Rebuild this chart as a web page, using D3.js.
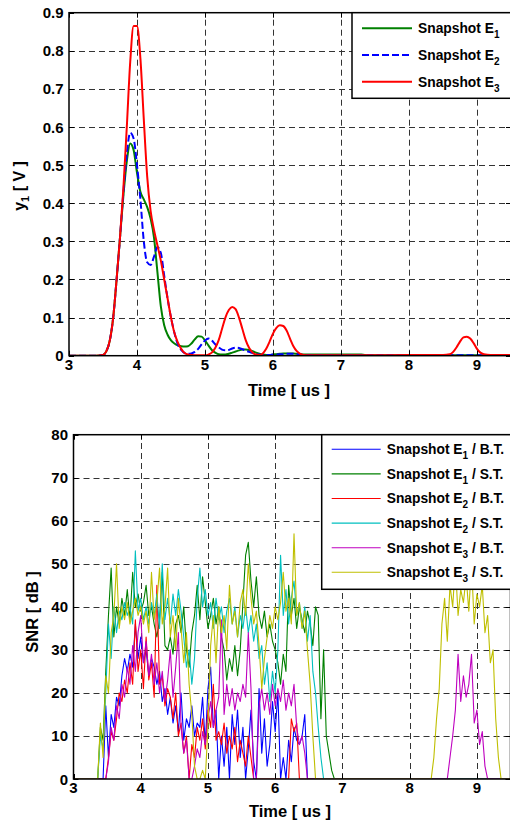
<!DOCTYPE html>
<html><head><meta charset="utf-8">
<script src="https://cdn.jsdelivr.net/npm/d3@7"></script>
<style>
body{margin:0;background:#fff}
svg{display:block;background:#fff}
text{font-family:"Liberation Sans",Arial,Helvetica,sans-serif;font-weight:bold;fill:#000}
</style>
</head><body>
<svg id="chart" width="510" height="823"></svg>
<script>
// ---------- Top chart data (y1 [V] vs Time [us]) ----------
const timeTop = [3.0,3.4,3.5,3.55,3.6,3.65,3.7,3.75,3.8,3.85,3.9,3.95,4.0,4.05,4.1,4.15,4.2,4.25,4.3,4.35,4.4,4.45,4.5,4.55,4.6,4.65,4.7,4.75,4.8,4.85,4.9,4.95,5.0,5.05,5.1,5.15,5.2,5.25,5.3,5.35,5.4,5.45,5.5,5.55,5.6,5.65,5.7,5.75,5.8,5.85,5.9,5.95,6.0,6.05,6.1,6.15,6.2,6.25,6.3,6.35,6.4,6.45,6.5,6.6,7.0,7.3,7.4,8.0,8.5,8.6,8.65,8.7,8.75,8.8,8.85,8.9,8.95,9.0,9.05,9.1,9.2,9.5];
const voltE1 = [0,0,0.002,0.012,0.04,0.1,0.2,0.31,0.42,0.51,0.557,0.54,0.48,0.43,0.41,0.39,0.36,0.31,0.22,0.13,0.08,0.055,0.04,0.032,0.027,0.025,0.024,0.025,0.032,0.043,0.051,0.05,0.04,0.027,0.015,0.008,0.004,0.003,0.003,0.005,0.008,0.011,0.014,0.016,0.016,0.015,0.012,0.008,0.005,0.003,0.002,0.002,0.003,0.004,0.005,0.006,0.006,0.006,0.006,0.005,0.004,0.003,0.003,0.003,0.003,0.003,0.001,0.001,0.001,0.001,0.001,0.001,0.001,0.001,0.001,0.001,0.001,0.001,0.001,0.001,0.001,0.001];
const voltE2 = [0,0,0.002,0.012,0.04,0.1,0.2,0.31,0.43,0.53,0.585,0.57,0.5,0.41,0.3,0.245,0.238,0.26,0.285,0.27,0.21,0.15,0.1,0.06,0.03,0.015,0.007,0.005,0.006,0.01,0.018,0.03,0.04,0.045,0.04,0.03,0.022,0.016,0.014,0.015,0.019,0.021,0.02,0.017,0.013,0.01,0.007,0.004,0.003,0.002,0.002,0.002,0.003,0.003,0.004,0.004,0.005,0.005,0.005,0.004,0.003,0.002,0.002,0.001,0.001,0.001,0.001,0.001,0.001,0.001,0.001,0.001,0.001,0.001,0.001,0.001,0.001,0.001,0.001,0.001,0.001,0.001];
const voltE3 = [0,0,0.002,0.012,0.04,0.1,0.2,0.31,0.44,0.6,0.77,0.865,0.865,0.78,0.62,0.47,0.38,0.33,0.29,0.25,0.2,0.15,0.1,0.06,0.035,0.018,0.007,0.003,0.002,0.001,0.001,0.001,0.001,0.003,0.008,0.02,0.04,0.07,0.1,0.12,0.128,0.122,0.1,0.07,0.04,0.02,0.008,0.003,0.002,0.006,0.018,0.037,0.058,0.073,0.08,0.078,0.066,0.045,0.025,0.012,0.005,0.002,0.001,0.001,0.001,0.001,0.001,0.002,0.002,0.004,0.01,0.022,0.037,0.048,0.05,0.045,0.033,0.018,0.008,0.004,0.002,0.002];
const topXTicks = [3,4,5,6,7,8,9];
const topYTicks = [0,0.1,0.2,0.3,0.4,0.5,0.6,0.7,0.8,0.9];
const topLegend = [
  {sub:"1", color:"#008000", dash:null},
  {sub:"2", color:"#0000ff", dash:"7,3"},
  {sub:"3", color:"#ff0000", dash:null}
];

// ---------- Bottom chart data (SNR [dB] vs Time [us]), sample step 0.04 us ----------
const snrStep = 0.04;
const snrE1BT = [0,17,5,15,12,19,17,24,28,25, 29,26,36,28,33,27,30,24,28,26, 22,25,18,21,15,19,13,17,11,20, 9,14,12,17,10,13,12,19,8,21, 26,12,16,0,10,3,12,0,15,8, 16,5,12,0,7,16,4,0,21,6, 14,3,8,18,11,20,0,5,0,9, 4,12,9,8,10,15,0];
const snrE1ST = [0,12,9,25,38,49,33,40,36,42, 38,44,37,48,40,43,39,41,45,38, 40,36,33,37,48,31,30,33,29,36, 38,34,40,30,26,34,38,45,37,47, 41,35,38,42,36,40,33,30,23,28, 25,31,24,30,41,52,55,46,40,47, 38,35,39,33,36,32,30,27,22,29, 25,45,38,42,35,40,37,34,39,36, 31,40,38,14,30,10,6,2,0];
const snrE2BTa = [0,5,11,9,14,20,18,23,20,27, 22,37,25,30,21,33,23,27,19,45, 22,24,17,21,19,14,20,10,13,6, 10,0,8,5,12,9,14,7,16,12, 22,9,11,8,13,6,10,7,12,4, 9,6,3,10,5,0];
const snrE2BTb = [0,14,11,13,0];
const snrE2ST = [0,10,7,20,36,28,40,34,39,37, 41,38,40,36,53,39,42,37,40,36, 41,38,43,35,50,37,42,36,43,38, 44,39,33,26,30,22,28,42,49,40, 44,38,41,35,42,37,40,34,39,42, 36,40,33,38,35,40,34,38,32,36, 28,31,22,27,18,25,20,30,52,38, 44,36,42,46,38,41,35,40,32,38, 25,20,12,5,0];
const snrE3BTa = [0,4,12,9,17,14,22,19,26,22, 31,25,34,38,27,32,24,29,22,27, 20,25,18,23,30,19,26,34,12,6, 9,0,0,3,7,5,11,8,14,18, 12,16,19,37,15,22,17,21,16,20, 18,22,19,34,21,0,0,17,21,16, 20,15,22,17,21,18,23,16,20,17, 22,12,8,10,6,0];
const snrE3BTb = [0,5,10,16,29,18,24,19,22,29,13,16,8,11,3,0];
const snrE3STa = [0,13,5,24,20,34,38,50,35,40, 37,41,36,39,42,38,40,36,39,34, 48,37,41,49,36,40,49,33,38,30, 42,35,27,34,22,15,3,0,0,2, 0,12,31,38,27,40,34,38,30,45, 36,39,33,41,44,38,50,42,36,39, 31,21,28,33,38,35,40,37,41,48, 39,42,36,57,38,41,35,39,30,22, 10,0];
const snrE3STb = [0,5,14,21,36,42,32,45,40,50,38,44,41,47,39,50,36,43,40,45,34,38,27,30,14,5,0];
const botXTicks = [3,4,5,6,7,8,9];
const botYTicks = [0,10,20,30,40,50,60,70,80];
const snrSeries = [
  {sub:"1", tag:"B.T.", color:"#0000ff", segs:[{start:3.44, v:snrE1BT}]},
  {sub:"1", tag:"S.T.", color:"#008000", segs:[{start:3.36, v:snrE1ST}]},
  {sub:"2", tag:"B.T.", color:"#ff0000", segs:[{start:3.48, v:snrE2BTa},{start:6.20, v:snrE2BTb}]},
  {sub:"2", tag:"S.T.", color:"#00bfbf", segs:[{start:3.36, v:snrE2ST}]},
  {sub:"3", tag:"B.T.", color:"#bf00bf", segs:[{start:3.48, v:snrE3BTa},{start:8.56, v:snrE3BTb}]},
  {sub:"3", tag:"S.T.", color:"#bfbf00", segs:[{start:3.36, v:snrE3STa},{start:8.32, v:snrE3STb}]}
];

// ---------- Drawing ----------
const svg = d3.select("#chart");
const GRID = "#333";
const crisp = v => Math.round(v) + 0.5;

function frame(g, x, y, xTicks, yTicks, id) {
  const [x0, x1] = x.range();
  const [y0, y1] = y.range();
  g.append("g").selectAll("line").data(xTicks.filter(t => t > x.domain()[0])).join("line")
    .attr("x1", d => crisp(x(d))).attr("x2", d => crisp(x(d))).attr("y1", y0).attr("y2", y1)
    .attr("stroke", GRID).attr("stroke-width", 1).attr("stroke-dasharray", "6,4");
  g.append("g").selectAll("line").data(yTicks.filter(t => t > y.domain()[0] && t < y.domain()[1])).join("line")
    .attr("x1", x0).attr("x2", x1).attr("y1", d => crisp(y(d))).attr("y2", d => crisp(y(d)))
    .attr("stroke", GRID).attr("stroke-width", 1).attr("stroke-dasharray", "6,4");
  svg.append("defs").append("clipPath").attr("id", id).append("rect")
    .attr("x", x0).attr("y", y1).attr("width", x1 - x0).attr("height", y0 - y1);
}

function axesOverlay(g, x, y, xTicks, yTicks, yFmt, fs) {
  const [x0, x1] = x.range();
  const [y0, y1] = y.range();
  const tl = 5;
  const tk = g.append("g").attr("stroke", "#000").attr("stroke-width", 1);
  xTicks.forEach(t => {
    tk.append("line").attr("x1", crisp(x(t))).attr("x2", crisp(x(t))).attr("y1", y0).attr("y2", y0 - tl);
    tk.append("line").attr("x1", crisp(x(t))).attr("x2", crisp(x(t))).attr("y1", y1).attr("y2", y1 + tl);
  });
  yTicks.forEach(t => {
    tk.append("line").attr("x1", x0).attr("x2", x0 + tl).attr("y1", crisp(y(t))).attr("y2", crisp(y(t)));
    tk.append("line").attr("x1", x1).attr("x2", x1 - tl).attr("y1", crisp(y(t))).attr("y2", crisp(y(t)));
  });
  g.append("rect").attr("x", x0).attr("y", y1).attr("width", x1 - x0).attr("height", y0 - y1)
    .attr("fill", "none").attr("stroke", "#000").attr("stroke-width", 1.5);
  g.append("g").selectAll("text").data(xTicks).join("text")
    .attr("x", d => x(d)).attr("y", y0 + 14).attr("text-anchor", "middle")
    .style("font-size", fs + "px").text(d => d);
  g.append("g").selectAll("text").data(yTicks).join("text")
    .attr("x", x0 - 5.5).attr("y", d => y(d) + 5.5).attr("text-anchor", "end")
    .style("font-size", fs + "px").text(yFmt);
}

// ----- Top chart -----
const xT = d3.scaleLinear().domain([3, 9.5]).range([69, 511]);
const yT = d3.scaleLinear().domain([0, 0.9]).range([355.7, 12.7]);
const gT = svg.append("g");
frame(gT, xT, yT, topXTicks, topYTicks, "clipTop");
const lineT = d3.line().x(d => xT(d[0])).y(d => yT(d[1])).curve(d3.curveMonotoneX);
const topData = [voltE1, voltE2, voltE3];
const linesT = gT.append("g").attr("clip-path", "url(#clipTop)");
topData.forEach((vals, i) => {
  linesT.append("path").datum(timeTop.map((t, j) => [t, vals[j]]))
    .attr("d", lineT).attr("fill", "none").attr("stroke", topLegend[i].color)
    .attr("stroke-width", 2).attr("stroke-dasharray", topLegend[i].dash)
    .attr("stroke-linejoin", "round");
});
axesOverlay(gT, xT, yT, topXTicks, topYTicks, d => d === 0 ? "0" : d3.format(".1f")(d), 15);
gT.append("text").attr("x", 289).attr("y", 395.5).attr("text-anchor", "middle")
  .style("font-size", "16.5px").text("Time [ us ]");
const ylab = gT.append("text").attr("transform", "translate(24.5,186) rotate(-90)")
  .attr("text-anchor", "middle").style("font-size", "16px");
ylab.append("tspan").text("y");
ylab.append("tspan").attr("dy", 4).style("font-size", "11px").text("1");
ylab.append("tspan").attr("dy", -4).text(" [ V ]");

// top legend
const legT = gT.append("g");
legT.append("rect").attr("x", 352).attr("y", 12.7).attr("width", 170).attr("height", 85.6)
  .attr("fill", "#fff").attr("stroke", "#000").attr("stroke-width", 1.5);
topLegend.forEach((e, i) => {
  const yy = 28.3 + i * 26.7;
  legT.append("line").attr("x1", 362).attr("x2", 412).attr("y1", yy).attr("y2", yy)
    .attr("stroke", e.color).attr("stroke-width", 2).attr("stroke-dasharray", e.dash);
  const t = legT.append("text").attr("x", 418).attr("y", yy + 4.8).style("font-size", "13.8px");
  t.append("tspan").text("Snapshot E");
  t.append("tspan").attr("dy", 5).style("font-size", "10px").text(e.sub);
});

// ----- Bottom chart -----
const xB = d3.scaleLinear().domain([3, 9.5]).range([73.5, 510.5]);
const yB = d3.scaleLinear().domain([0, 80]).range([779, 434.7]);
const gB = svg.append("g");
frame(gB, xB, yB, botXTicks, botYTicks, "clipBot");
const lineB = d3.line().x(d => xB(d[0])).y(d => yB(Math.max(0, d[1])));
const linesB = gB.append("g").attr("clip-path", "url(#clipBot)");
snrSeries.forEach(s => {
  const pts = [[3, 0]];
  s.segs.forEach(seg => seg.v.forEach((v, i) => pts.push([seg.start + i * snrStep, v])));
  pts.push([9.5, 0]);
  linesB.append("path").datum(pts).attr("d", lineB).attr("fill", "none")
    .attr("stroke", s.color).attr("stroke-width", 1.1).attr("stroke-linejoin", "round");
});
axesOverlay(gB, xB, yB, botXTicks, botYTicks, d => d, 15);
gB.append("text").attr("x", 290).attr("y", 817).attr("text-anchor", "middle")
  .style("font-size", "16.5px").text("Time [ us ]");
gB.append("text").attr("transform", "translate(37.5,612) rotate(-90)")
  .attr("text-anchor", "middle").style("font-size", "16.5px").text("SNR [ dB ]");

// bottom legend
const legB = gB.append("g");
legB.append("rect").attr("x", 321.7).attr("y", 434.7).attr("width", 200).attr("height", 154.6)
  .attr("fill", "#fff").attr("stroke", "#000").attr("stroke-width", 1.5);
snrSeries.forEach((s, i) => {
  const yy = 449.3 + i * 24.6;
  legB.append("line").attr("x1", 331.7).attr("x2", 380.7).attr("y1", yy).attr("y2", yy)
    .attr("stroke", s.color).attr("stroke-width", 1.1);
  const t = legB.append("text").attr("x", 386.7).attr("y", yy + 4.8).style("font-size", "13.8px");
  t.append("tspan").text("Snapshot E");
  t.append("tspan").attr("dy", 5).style("font-size", "10px").text(s.sub);
  t.append("tspan").attr("dy", -5).text(" / " + s.tag);
});
</script>
</body></html>
